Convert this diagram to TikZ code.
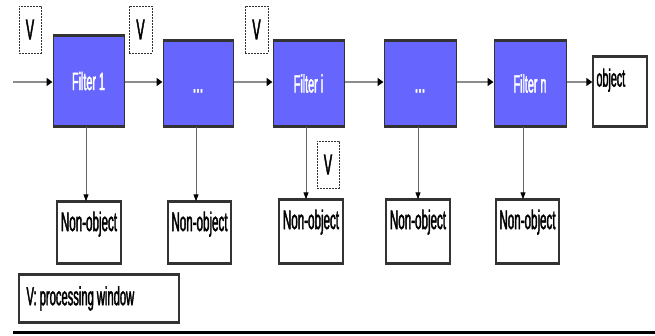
\documentclass[tikz,border=0pt]{standalone}
\usepackage{fontspec}
\usetikzlibrary{arrows.meta,calc}
\newfontfamily\narrowsans[FakeStretch=0.43,FakeBold=1.5]{Liberation Sans}
\definecolor{filterblue}{HTML}{6666FF}
\definecolor{edgegray}{HTML}{333333}
\definecolor{flowgray}{HTML}{8C8C8C}
\tikzset{
  filterbox/.style={draw=edgegray, line width=1pt, fill=filterblue, text=white,
    minimum height=85pt, inner sep=0pt, text height=18pt, text depth=0pt,
    font=\narrowsans\fontsize{25}{28}\selectfont},
  outbox/.style={draw=edgegray, line width=1.4pt, fill=white, inner sep=0pt},
  winbox/.style={draw=edgegray, line width=1pt, dash pattern=on 2pt off 1pt,
    minimum width=22pt, minimum height=47pt, inner sep=0pt,
    font=\narrowsans\fontsize{29}{32}\selectfont},
  boxlabel/.style={inner sep=0pt, font=\narrowsans\fontsize{27}{30}\selectfont},
  flow/.style={flowgray, line width=2pt, -{Triangle[length=6pt,width=8pt,color=black]}},
  reject/.style={black!60, line width=1pt, -{Triangle[length=7pt,width=5pt,color=black]}},
}
\begin{document}
\frenchspacing
\begin{tikzpicture}[x=1pt,y=-1pt]
\useasboundingbox (0,0) rectangle (655,335);

% filter cascade
\node[filterbox, minimum width=71pt, minimum height=90pt] (f1) at (88.5,81) {Filter 1};
\node[filterbox, minimum width=70pt, font=\narrowsans\fontsize{30}{32}\selectfont] (d1) at (198,83.5) {...};
\node[filterbox, minimum width=71pt] (fi) at (308.5,83.5) {Filter i};
\node[filterbox, minimum width=72pt, font=\narrowsans\fontsize{30}{32}\selectfont] (d2) at (420,83.5) {...};
\node[filterbox, minimum width=72pt] (fn) at (530,83.5) {Filter n};

% final output
\node[outbox, minimum width=54pt, minimum height=69pt,
  label={[boxlabel, anchor=north west, xshift=4pt, yshift=-12pt, font=\narrowsans\fontsize{25}{28}\selectfont]north west:object}]
  (obj) at (620,91.5) {};

% rejected outputs
\foreach \name/\cx/\cy/\w/\h in {n1/89/232.5/64/61, n2/199.5/232.5/63/61,
    n3/311/231.5/64/63, n4/418/231.5/64/63, n5/527.5/231.5/63/63}
  \node[outbox, minimum width=\w pt, minimum height=\h pt,
    label={[boxlabel, anchor=north, yshift=-10pt]north:Non-object}]
    (\name) at (\cx,\cy) {};

% processing windows
\node[winbox] (v1) at (30,29.5) {V};
\node[winbox, minimum width=23pt] (v2) at (140.5,29.5) {V};
\node[winbox, minimum width=23pt] (v3) at (256.5,29.5) {V};
\node[winbox] (v4) at (328,164.5) {V};

% legend
\node[outbox, minimum width=160pt, minimum height=47pt,
  label={[boxlabel, anchor=west, xshift=8pt, font=\narrowsans\fontsize{26}{29}\selectfont]west:{V: processing window}}]
  (legend) at (99,298.5) {};

% heavier top and bottom edges
\foreach \b in {f1,d1,fi,d2,fn,obj,n1,n2,n3,n4,n5,legend}{
  \draw[edgegray, line width=2.2pt] (\b.north west) -- (\b.north east);
  \draw[edgegray, line width=2.2pt] (\b.south west) -- (\b.south east);
}

% main flow
\coordinate (src) at (13,82);
\draw[flow] (src) -- (src -| f1.west);
\draw[flow] (src -| f1.east) -- (src -| d1.west);
\draw[flow] (src -| d1.east) -- (src -| fi.west);
\draw[flow] (src -| fi.east) -- (src -| d2.west);
\draw[flow] (src -| d2.east) -- (src -| fn.west);
\draw[flow] (src -| fn.east) -- (src -| obj.west);

% rejections
\draw[reject] ([xshift=-2.5pt]f1.south) -- ([xshift=-2.5pt]f1.south |- n1.north);
\draw[reject] ([xshift=-2pt]d1.south) -- ([xshift=-2pt]d1.south |- n2.north);
\draw[reject] ([xshift=-2.5pt]fi.south) -- ([xshift=-2.5pt]fi.south |- n3.north);
\draw[reject] ([xshift=-2pt]d2.south) -- ([xshift=-2pt]d2.south |- n4.north);
\draw[reject] ([xshift=-7pt]fn.south) -- ([xshift=-7pt]fn.south |- n5.north);

% bottom rule
\draw[black, line width=3pt] (13,332) -- (655,332);
\end{tikzpicture}
\end{document}
